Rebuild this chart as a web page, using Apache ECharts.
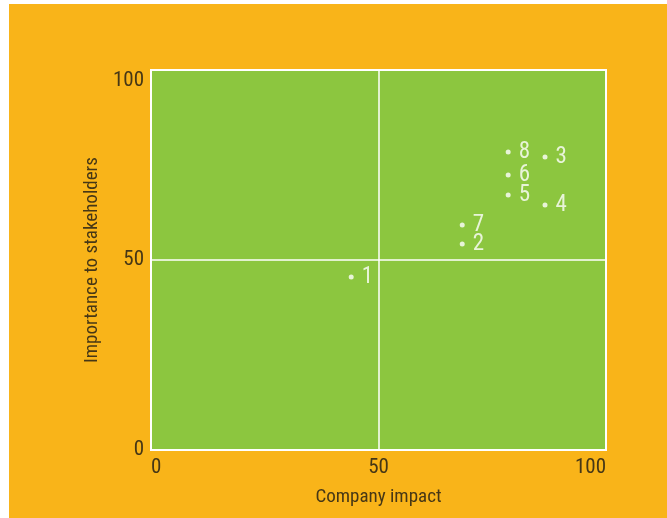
<!DOCTYPE html>
<html><head><meta charset="utf-8">
<script src="https://cdn.jsdelivr.net/npm/echarts@6/dist/echarts.min.js"></script>
<style>html,body{margin:0;padding:0;background:#fff;}#c{width:667px;height:518px;}</style>
</head><body><div id="c"></div>
<script>
const pointNames = ['1','2','3','4','5','6','7','8'];
const companyImpact = [44, 68.4, 86.6, 86.6, 78.5, 78.5, 68.4, 78.5];
const stakeholderImportance = [45.5, 54.2, 77.1, 64.5, 67.1, 72.4, 59.2, 78.4];
const xTicks = [0, 50, 100];
const yTicks = [0, 50, 100];

const font = '"Liberation Sans Narrow", "Roboto Condensed", "Liberation Sans", sans-serif';
const txt = '#463716';
const chart = echarts.init(document.getElementById('c'));
chart.setOption({
  animation: false,
  graphic: [{type:'rect', z:-10, shape:{x:9, y:4, width:658, height:514}, style:{fill:'#F9B419'}}],
  grid: {left:151, top:70, right:61, bottom:68, show:true, backgroundColor:'#8CC63F', borderColor:'#ffffff', borderWidth:2},
  xAxis: {
    type:'value', min:xTicks[0], max:xTicks[xTicks.length-1], interval:50,
    name:'Company impact', nameLocation:'middle', nameGap:38,
    nameTextStyle:{fontFamily:font, fontSize:19, color:txt},
    axisLine:{show:false}, axisTick:{show:false},
    axisLabel:{fontFamily:font, fontSize:21, color:txt, margin:7, alignMinLabel:'left', alignMaxLabel:'right'},
    splitLine:{show:true, lineStyle:{color:'#ffffff', width:1.5}}
  },
  yAxis: {
    type:'value', min:yTicks[0], max:yTicks[yTicks.length-1], interval:50,
    name:'Importance to stakeholders', nameLocation:'middle', nameGap:48, nameRotate:90,
    nameTextStyle:{fontFamily:font, fontSize:19, color:txt},
    axisLine:{show:false}, axisTick:{show:false},
    axisLabel:{fontFamily:font, fontSize:21, color:txt, margin:7, verticalAlignMaxLabel:'top'},
    splitLine:{show:true, lineStyle:{color:'#ffffff', width:1.5}}
  },
  series: [{
    type:'scatter', symbol:'circle', symbolSize:5,
    itemStyle:{color:'#ffffff'},
    data: pointNames.map((n,i)=>({name:n, value:[companyImpact[i], stakeholderImportance[i]]})),
    label:{show:true, position:'right', distance:8, formatter:'{b}', color:'#ffffff', fontFamily:font, fontSize:23}
  }]
});
</script></body></html>
